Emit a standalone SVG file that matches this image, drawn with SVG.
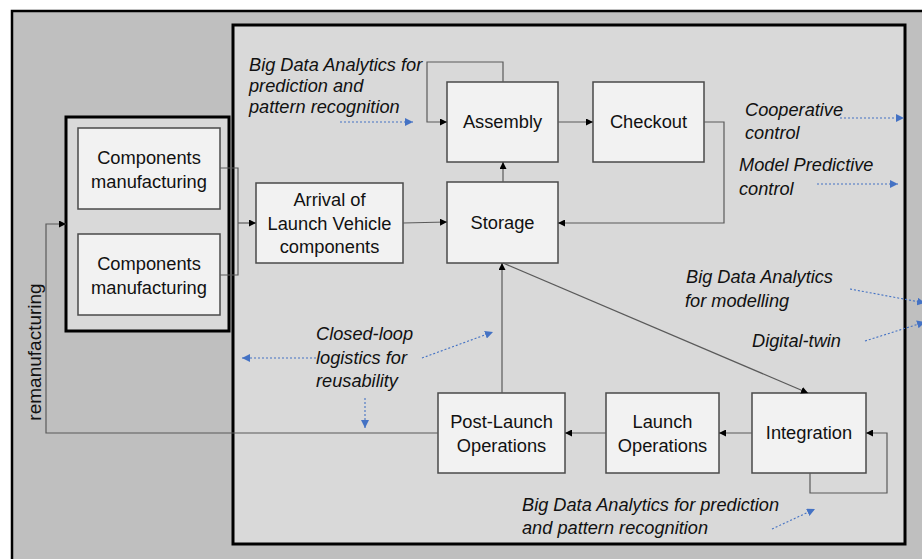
<svg xmlns="http://www.w3.org/2000/svg" width="922" height="559" viewBox="0 0 922 559">
<defs>
<style>
.box{fill:#f2f2f2;stroke:#4a4a4a;stroke-width:1.5}
.t{font-family:"Liberation Sans",Arial,sans-serif;font-size:18.3px;fill:#111;text-anchor:middle}
.r{font-family:"Liberation Sans",Arial,sans-serif;font-size:19px;fill:#111;text-anchor:middle}
.a{font-family:"Liberation Sans",Arial,sans-serif;font-size:18.2px;font-style:italic;fill:#111}
.c{fill:none;stroke:#5a5a5a;stroke-width:1.2}
.b{fill:none;stroke:#4472c4;stroke-width:1.1;stroke-dasharray:2 2}
</style>
<marker id="ah" viewBox="0 0 10 10" refX="10" refY="5" markerWidth="7" markerHeight="7" markerUnits="userSpaceOnUse" orient="auto">
<path d="M0,0 L10,5 L0,10 z" fill="#000"/>
</marker>
<marker id="bh" viewBox="0 0 10 10" refX="10" refY="5" markerWidth="8" markerHeight="8" markerUnits="userSpaceOnUse" orient="auto">
<path d="M0,0 L10,5 L0,10 z" fill="#4472c4"/>
</marker>
</defs>
<rect x="0" y="0" width="922" height="559" fill="#ffffff"/>
<rect id="outer" x="12" y="11" width="930" height="570" fill="#bfbfbf" stroke="#000" stroke-width="2.5"/>
<rect id="inner" x="233" y="25" width="672" height="519" fill="#d9d9d9" stroke="#000" stroke-width="3"/>
<g id="group-manufacturing">
<rect x="66" y="117" width="163" height="214" fill="#d9d9d9" stroke="#000" stroke-width="3"/>
</g>
<g id="comp1">
<rect class="box" x="78" y="128" width="142" height="81"/>
<text class="t" x="149" y="164">Components</text>
<text class="t" x="149" y="188">manufacturing</text>
</g>
<g id="comp2">
<rect class="box" x="78" y="234" width="142" height="81"/>
<text class="t" x="149" y="270">Components</text>
<text class="t" x="149" y="294">manufacturing</text>
</g>
<g id="arrival">
<rect class="box" x="256" y="183" width="147" height="80"/>
<text class="t" x="329.5" y="206">Arrival of</text>
<text class="t" x="329.5" y="230">Launch Vehicle</text>
<text class="t" x="329.5" y="253">components</text>
</g>
<g id="assembly">
<rect class="box" x="447" y="82" width="111" height="80"/>
<text class="t" x="502.5" y="128">Assembly</text>
</g>
<g id="checkout">
<rect class="box" x="593" y="82" width="111" height="80"/>
<text class="t" x="648.5" y="128">Checkout</text>
</g>
<g id="storage">
<rect class="box" x="447" y="182" width="111" height="81"/>
<text class="t" x="502.5" y="229">Storage</text>
</g>
<g id="postlaunch">
<rect class="box" x="438" y="393" width="127" height="80"/>
<text class="t" x="501.5" y="428">Post-Launch</text>
<text class="t" x="501.5" y="452">Operations</text>
</g>
<g id="launch">
<rect class="box" x="606" y="393" width="113" height="80"/>
<text class="t" x="662.5" y="428">Launch</text>
<text class="t" x="662.5" y="452">Operations</text>
</g>
<g id="integration">
<rect class="box" x="752" y="393" width="114" height="80"/>
<text class="t" x="809" y="439">Integration</text>
</g>
<g id="connectors">
<path class="c" d="M220,168 H238 V275 H220"/>
<path class="c" d="M238,223 H256" marker-end="url(#ah)"/>
<path class="c" d="M403,223 L447,222" marker-end="url(#ah)"/>
<path class="c" d="M503,82 V62 H427 V122 H447" marker-end="url(#ah)"/>
<path class="c" d="M558,122 H593" marker-end="url(#ah)"/>
<path class="c" d="M704,122 H724 V223 H558" marker-end="url(#ah)"/>
<path class="c" d="M503,182 V162" marker-end="url(#ah)"/>
<path class="c" d="M502,393 V263" marker-end="url(#ah)"/>
<path class="c" d="M503,263 L808,393" marker-end="url(#ah)"/>
<path class="c" d="M810,473 V493 H887 V433 H866" marker-end="url(#ah)"/>
<path class="c" d="M752,433 H719" marker-end="url(#ah)"/>
<path class="c" d="M606,433 H565" marker-end="url(#ah)"/>
<path class="c" d="M438,433 H46 V224 H66" marker-end="url(#ah)"/>
</g>
<g id="annotations">
<text class="a" x="249" y="71">Big Data Analytics for</text>
<text class="a" x="249" y="92">prediction and</text>
<text class="a" x="249" y="113">pattern recognition</text>
<path class="b" d="M340,122 H413" marker-end="url(#bh)"/>
<text class="a" x="745" y="116">Cooperative</text>
<text class="a" x="745" y="139">control</text>
<path class="b" d="M840,118 H904" marker-end="url(#bh)"/>
<text class="a" x="739" y="171">Model Predictive</text>
<text class="a" x="739" y="195">control</text>
<path class="b" d="M817,184 H898" marker-end="url(#bh)"/>
<text class="a" x="686" y="283">Big Data Analytics</text>
<text class="a" x="685" y="307">for modelling</text>
<path class="b" d="M850,289 L925,303" marker-end="url(#bh)"/>
<text class="a" x="752" y="347">Digital-twin</text>
<path class="b" d="M865,341 L925,322" marker-end="url(#bh)"/>
<text class="a" x="316" y="340">Closed-loop</text>
<text class="a" x="316" y="364">logistics for</text>
<text class="a" x="316" y="387">reusability</text>
<path class="b" d="M316,358 H242" marker-end="url(#bh)"/>
<path class="b" d="M422,358 L493,332" marker-end="url(#bh)"/>
<path class="b" d="M365,398 V428" marker-end="url(#bh)"/>
<text class="a" x="522" y="511">Big Data Analytics for prediction</text>
<text class="a" x="522" y="534">and pattern recognition</text>
<path class="b" d="M772,529 L815,509" marker-end="url(#bh)"/>
<text class="r" transform="translate(41,352) rotate(-90)">remanufacturing</text>
</g>
</svg>
